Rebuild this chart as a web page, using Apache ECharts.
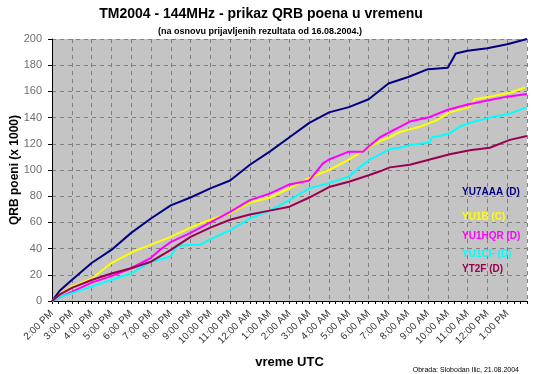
<!DOCTYPE html>
<html>
<head>
<meta charset="utf-8">
<script src="https://cdn.jsdelivr.net/npm/echarts@6/dist/echarts.min.js"></script>
<style>
html,body{margin:0;padding:0;background:#fff;}
#c{width:534px;height:374px;}
</style>
</head>
<body>
<div id="c"></div>
<script>
// Tick labels (hours since contest start, 0 = 2:00 PM)
const hourLabels = ['2:00 PM','3:00 PM','4:00 PM','5:00 PM','6:00 PM','7:00 PM','8:00 PM','9:00 PM','10:00 PM','11:00 PM',
  '12:00 AM','1:00 AM','2:00 AM','3:00 AM','4:00 AM','5:00 AM','6:00 AM','7:00 AM','8:00 AM','9:00 AM','10:00 AM','11:00 AM',
  '12:00 PM','1:00 PM'];

const seriesNames = ['YU7AAA (D)','YU1B (C)','YU1HQR (D)','YU1CF (D)','YT2F (D)'];

// YU7AAA (D)
const yu7aaaTime = [0,0.4,1,2,3,4,5,6,7,8,9,10,11,12,13,14,15,16,17,18,19,20,20.4,21,22,23,24];
const yu7aaaQrb  = [0,8,16,29,39,52,63,73,79,86,92,104,114,125,136,144,148,154,166,171,177,178,189,191,193,196,200];

// YU1B (C)
const yu1bTime = [0,0.4,1,2,3,4,5,6,7,8,9,10,11,12,13,14,15,16,16.57,17.07,17.58,18.08,18.59,19.09,19.44,20.1,21.1,21.36,22.12,23.13,23.9];
const yu1bQrb  = [0,5,11,17,29,37,43,49,56,62,67,75,79,86,94,100,108,117,122,125,129,131,133,136,138,144,148,154,156,159,163];

// YU1HQR (D)
const yu1hqrTime = [0,0.4,1,2,3,4,5,5.45,6,7,8,9,10,11,12,13,13.69,14,15,15.71,16,16.57,17.07,17.58,18.08,19,20,21,22,23,24];
const yu1hqrQrb  = [0,3,7,14,19,25,33,39,45,52,60,68,77,82,89,92,105,108,114,114,118,125,129,133,137,140,146,150,153,156,158];

// YU1CF (D)
const yu1cfTime = [0,0.4,1,2,3,4,5,6,6.31,7,7.5,8,9,10,11,12,13,14,15,15.56,16.06,16.57,17.07,17.58,18.08,18.59,19.09,19.19,19.6,20.1,20.6,21.1,22.12,23.13,24];
const yu1cfQrb  = [0,3,6,11,16,21,30,34,42,43,43,47,54,63,69,77,86,90,95,102,108,112,116,117,119,120,121,125,126,128,133,136,140,143,148];

// YT2F (D)
const yt2fTime = [0,0.4,1,2,3,4,5,6,7,8,9,10,11,12,13,14,15,16,16.57,17.07,18.08,19.09,20.1,21.11,22.12,23.13,24];
const yt2fQrb  = [0,5,10,16,21,25,30,39,49,56,62,66,69,72,79,87,91,96,99,102,104,108,112,115,117,123,126];

const colors = ['#000080','#FFFF00','#FF00FF','#00FFFF','#990050'];
const seriesTimes = [yu7aaaTime, yu1bTime, yu1hqrTime, yu1cfTime, yt2fTime];
const seriesValues = [yu7aaaQrb, yu1bQrb, yu1hqrQrb, yu1cfQrb, yt2fQrb];

const FONT = '"Liberation Sans", Arial, sans-serif';
const legendTops = [187, 212, 231, 249, 264];

const chart = echarts.init(document.getElementById('c'), null, {renderer:'canvas'});
chart.setOption({
  animation: false,
  backgroundColor: '#ffffff',
  textStyle: {fontFamily: FONT},
  title: [
    {text: 'TM2004 - 144MHz - prikaz QRB poena u vremenu', left: 256, top: 2, textAlign: 'center',
      textStyle: {fontSize: 14, fontWeight: 'bold', color: '#000', fontFamily: FONT}},
    {text: '(na osnovu prijavljenih rezultata od 16.08.2004.)', left: 255, top: 22, textAlign: 'center',
      textStyle: {fontSize: 9, fontWeight: 'bold', color: '#000', fontFamily: FONT}},
    {text: 'Obrada: Slobodan Ilic, 21.08.2004', right: 10, top: 362,
      textStyle: {fontSize: 7, fontWeight: 'normal', color: '#000', fontFamily: FONT}}
  ],
  legend: seriesNames.map((n, i) => ({
    data: [{name: n, icon: 'none', textStyle: {color: colors[i]}}],
    left: 462, top: legendTops[i], itemWidth: 0, itemHeight: 10, itemGap: 0, padding: 0,
    selectedMode: false,
    textStyle: {fontSize: 10, fontWeight: 'bold', fontFamily: FONT, padding: [0,0,0,-5]}
  })),
  grid: {left: 52, right: 7, top: 39, bottom: 73, containLabel: false, outerBoundsMode: 'none',
    show: true, backgroundColor: '#c4c4c4', borderWidth: 0},
  xAxis: {
    type: 'value', min: 0, max: 24, interval: 1,
    name: 'vreme UTC', nameLocation: 'middle', nameGap: 55, nameMoveOverlap: false,
    nameTextStyle: {fontSize: 13, fontWeight: 'bold', color: '#000', fontFamily: FONT},
    axisLine: {show: true, lineStyle: {color: '#000', width: 1}},
    axisTick: {show: true, length: 3, lineStyle: {color: '#000'}},
    minorTick: {show: true, splitNumber: 3, length: 3, lineStyle: {color: '#000'}},
    axisLabel: {rotate: 45, fontSize: 10, color: '#333', margin: 11, fontFamily: FONT,
      formatter: v => hourLabels[Math.round(v)] || '', showMaxLabel: false},
    splitLine: {show: true, lineStyle: {color: '#808080', type: [4, 4], width: 1}}
  },
  yAxis: {
    type: 'value', min: 0, max: 200, interval: 20,
    name: 'QRB poeni (x 1000)', nameLocation: 'middle', nameGap: 31, nameRotate: 90, nameMoveOverlap: false,
    nameTextStyle: {fontSize: 12, fontWeight: 'bold', color: '#000', fontFamily: FONT},
    axisLine: {show: true, lineStyle: {color: '#000', width: 1}},
    axisTick: {show: true, length: 4, lineStyle: {color: '#000'}},
    axisLabel: {fontSize: 11, color: '#6e6e6e', margin: 10, fontFamily: FONT},
    splitLine: {show: true, lineStyle: {color: '#808080', type: [4, 4], width: 1}}
  },
  series: seriesNames.map((n, i) => ({
    name: n, type: 'line', symbol: 'none', smooth: false,
    lineStyle: {color: colors[i], width: 2},
    itemStyle: {color: colors[i]},
    data: seriesTimes[i].map((t, k) => [t, seriesValues[i][k]])
  }))
});
</script>
</body>
</html>
